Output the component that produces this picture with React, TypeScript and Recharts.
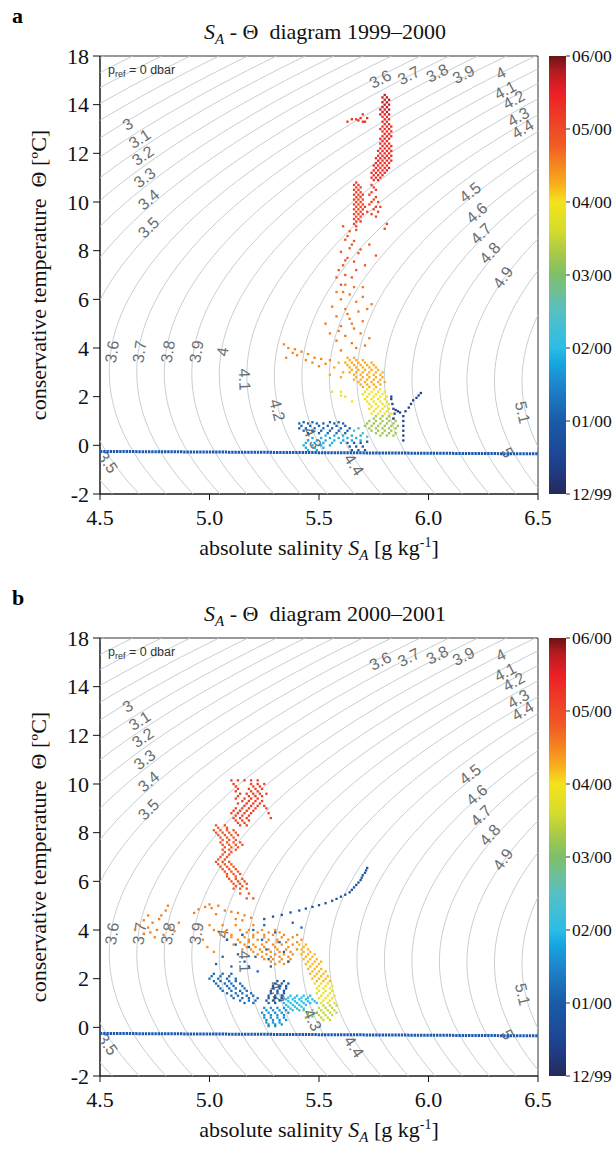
import React from "react";
import { ScatterChart, Scatter, XAxis, YAxis, ReferenceArea, BarChart, Bar } from "recharts";

type Pt = [number, number];

const SERIF = '"Liberation Serif", "Times New Roman", serif';
const SANS = '"Liberation Sans", Arial, sans-serif';

// axes
const xTicks = [4.5, 5.0, 5.5, 6.0, 6.5];
const yTicks = [-2, 0, 2, 4, 6, 8, 10, 12, 14, 16];
const yTickLabels = ["-2", "0", "2", "4", "6", "8", "10", "12", "14", "18"]; // the figure prints 18 on its top tick
const cbTicks = [0, 1, 2, 3, 4, 5, 6];
const cbTickLabels = ["12/99", "01/00", "02/00", "03/00", "04/00", "05/00", "06/00"];

// isopycnals (sigma0, kg m-3)
const sigmaLevels = [2.3, 2.4, 2.5, 2.6, 2.7, 2.8, 2.9, 3.0, 3.1, 3.2, 3.3, 3.4, 3.5, 3.6, 3.7, 3.8, 3.9, 4.0, 4.1, 4.2, 4.3, 4.4, 4.5, 4.6, 4.7, 4.8, 4.9, 5.0, 5.1, 5.2, 5.3];
// label text, SA, CT where it sits
const contourLabels: [string, number, number][] = [
  ["3", 4.626, 13.2], ["3.1", 4.681, 12.6], ["3.2", 4.695, 11.9], ["3.3", 4.704, 11.0], ["3.4", 4.722, 10.1], ["3.5", 4.722, 8.95],
  ["3.6", 5.78, 15.05], ["3.7", 5.91, 15.2], ["3.8", 6.04, 15.3], ["3.9", 6.16, 15.25], ["4", 6.33, 15.3],
  ["4.1", 6.35, 14.6], ["4.2", 6.39, 14.2], ["4.3", 6.41, 13.5], ["4.4", 6.43, 13.0],
  ["4.5", 6.19, 10.4], ["4.6", 6.22, 9.55], ["4.7", 6.24, 8.7], ["4.8", 6.28, 7.9], ["4.9", 6.34, 6.9],
  ["3.6", 4.555, 3.85], ["3.7", 4.68, 3.85], ["3.8", 4.81, 3.85], ["3.9", 4.94, 3.85], ["4", 5.06, 3.85],
  ["4.1", 5.16, 2.7], ["4.2", 5.31, 1.45], ["4.3", 5.47, 0.3], ["4.4", 5.66, -0.8],
  ["3.5", 4.535, -0.7], ["5", 6.36, -0.3], ["5.1", 6.43, 1.35],
];
const freezeLine: Pt[] = [[4.5, -0.25], [6.5, -0.35]];

// time colour map (months after 1 Dec 1999)
const cmapT = [0, 0.3, 0.6, 1.0, 1.5, 1.8, 2.0, 2.5, 2.8, 3.0, 3.3, 3.6, 4.0, 4.25, 4.5, 4.8, 5.0, 5.5, 5.8, 6.0];
const cmapC = ["#242a5a", "#203a82", "#1c4a98", "#1a5ba8", "#1d86cc", "#16a6e0", "#2bbde8", "#56c0c4", "#72bf8f", "#7dbf6a", "#a8c948", "#d4dc2c", "#f4e31c", "#f9ad1d", "#f5861f", "#f05a24", "#ee4a27", "#ec1f25", "#b01c20", "#6a1414"];

// ---- panel a data (SA, CT) ----
const aTopDarkRed: Pt[] = [
  [5.80, 14.4], [5.79, 14.3], [5.81, 14.3], [5.80, 14.2], [5.82, 14.2], [5.79, 14.1], [5.81, 14.1], [5.80, 14.0], [5.82, 14.0],
  [5.79, 13.9], [5.81, 13.9], [5.78, 13.8], [5.80, 13.8], [5.82, 13.8], [5.79, 13.7], [5.81, 13.7], [5.78, 13.6], [5.80, 13.6], [5.82, 13.6],
];
const aRedColumn: Pt[] = [
  [5.79, 13.5], [5.81, 13.5], [5.80, 13.4], [5.82, 13.4], [5.79, 13.3], [5.81, 13.3], [5.80, 13.2], [5.82, 13.2],
  [5.79, 13.1], [5.81, 13.1], [5.83, 13.1], [5.78, 13.0], [5.80, 13.0], [5.82, 13.0], [5.79, 12.9], [5.81, 12.9], [5.83, 12.9],
  [5.80, 12.8], [5.82, 12.8], [5.79, 12.7], [5.81, 12.7], [5.83, 12.7], [5.78, 12.6], [5.80, 12.6], [5.82, 12.6],
  [5.79, 12.5], [5.81, 12.5], [5.78, 12.4], [5.80, 12.4], [5.82, 12.4], [5.79, 12.3], [5.81, 12.3], [5.83, 12.3],
  [5.78, 12.2], [5.80, 12.2], [5.82, 12.2], [5.77, 12.1], [5.79, 12.1], [5.81, 12.1], [5.83, 12.1],
  [5.78, 12.0], [5.80, 12.0], [5.82, 12.0], [5.77, 11.9], [5.79, 11.9], [5.81, 11.9], [5.83, 11.9],
  [5.76, 11.8], [5.78, 11.8], [5.80, 11.8], [5.82, 11.8], [5.77, 11.7], [5.79, 11.7], [5.81, 11.7], [5.83, 11.7],
  [5.76, 11.6], [5.78, 11.6], [5.80, 11.6], [5.82, 11.6], [5.75, 11.5], [5.77, 11.5], [5.79, 11.5], [5.81, 11.5],
  [5.76, 11.4], [5.78, 11.4], [5.80, 11.4], [5.82, 11.4], [5.75, 11.3], [5.77, 11.3], [5.79, 11.3], [5.81, 11.3],
  [5.74, 11.2], [5.76, 11.2], [5.78, 11.2], [5.80, 11.2], [5.75, 11.1], [5.77, 11.1], [5.79, 11.1],
  [5.74, 11.0], [5.76, 11.0], [5.78, 11.0], [5.75, 10.9], [5.77, 10.9],
];
const aRedTuft: Pt[] = [[5.63, 13.3], [5.65, 13.4], [5.67, 13.4], [5.69, 13.45], [5.70, 13.6], [5.71, 13.3], [5.72, 13.45], [5.70, 13.3], [5.68, 13.35]];
const aSecondColumn: Pt[] = [
  [5.67, 10.8], [5.66, 10.7], [5.68, 10.7], [5.67, 10.6], [5.69, 10.6], [5.66, 10.5], [5.68, 10.5], [5.67, 10.4], [5.69, 10.4],
  [5.66, 10.3], [5.68, 10.3], [5.70, 10.3], [5.67, 10.2], [5.69, 10.2], [5.66, 10.1], [5.68, 10.1], [5.70, 10.1],
  [5.67, 10.0], [5.69, 10.0], [5.66, 9.9], [5.68, 9.9], [5.70, 9.9], [5.67, 9.8], [5.69, 9.8], [5.71, 9.8],
  [5.66, 9.7], [5.68, 9.7], [5.70, 9.7], [5.67, 9.6], [5.69, 9.6], [5.66, 9.5], [5.68, 9.5], [5.70, 9.5],
  [5.67, 9.4], [5.69, 9.4], [5.66, 9.3], [5.68, 9.3], [5.67, 9.2], [5.69, 9.2], [5.66, 9.1], [5.67, 9.0],
  [5.74, 10.7], [5.75, 10.6], [5.76, 10.5], [5.74, 10.4], [5.73, 10.3], [5.76, 10.2], [5.75, 10.1], [5.77, 10.0], [5.74, 10.0],
  [5.73, 9.9], [5.76, 9.8], [5.75, 9.7], [5.77, 9.6], [5.74, 9.5], [5.76, 9.4], [5.72, 9.6], [5.78, 9.8], [5.80, 8.9], [5.81, 9.1],
];
const aOrangeRed: Pt[] = [
  [5.61, 9.0], [5.64, 8.8], [5.67, 8.85], [5.62, 8.45], [5.65, 8.25], [5.69, 8.05], [5.60, 7.95], [5.63, 7.7],
  [5.66, 7.55], [5.71, 7.4], [5.59, 7.2], [5.62, 7.0], [5.65, 6.9], [5.60, 6.6], [5.73, 8.25], [5.76, 7.8],
  [5.63, 8.6], [5.68, 7.9], [5.61, 7.4], [5.67, 7.2], [5.64, 8.1], [5.66, 8.4], [5.62, 7.6], [5.58, 6.9],
];
const aOrange: Pt[] = [
  [5.62, 6.6], [5.66, 6.5], [5.58, 6.3], [5.64, 6.2], [5.70, 6.1], [5.60, 6.0], [5.67, 5.9], [5.56, 5.7],
  [5.62, 5.6], [5.68, 5.5], [5.72, 5.6], [5.58, 5.3], [5.64, 5.2], [5.70, 5.1], [5.60, 4.9], [5.66, 4.8],
  [5.55, 4.6], [5.62, 4.5], [5.69, 4.6], [5.58, 4.3], [5.65, 4.2], [5.73, 4.4], [5.70, 6.5], [5.74, 5.8], [5.53, 5.0],
  [5.60, 3.9], [5.67, 4.0], [5.71, 4.1], [5.63, 5.4], [5.59, 4.7], [5.65, 5.0], [5.61, 6.3],
];
const aOrangeStreak: Pt[] = [
  [5.34, 4.15], [5.36, 4.0], [5.39, 3.95], [5.42, 3.85], [5.40, 3.7], [5.45, 3.75], [5.48, 3.6], [5.44, 3.5],
  [5.51, 3.55], [5.47, 3.4], [5.53, 3.35], [5.50, 3.25], [5.38, 3.8], [5.55, 3.5], [5.35, 3.6],
];
const aOrangeDense: Pt[] = [
  [5.63, 3.6], [5.66, 3.6], [5.64, 3.5], [5.67, 3.5], [5.70, 3.5], [5.62, 3.4], [5.65, 3.4], [5.68, 3.4], [5.71, 3.4], [5.74, 3.4],
  [5.63, 3.3], [5.66, 3.3], [5.69, 3.3], [5.72, 3.3], [5.75, 3.3], [5.64, 3.2], [5.67, 3.2], [5.70, 3.2], [5.73, 3.2], [5.76, 3.2],
  [5.65, 3.1], [5.68, 3.1], [5.71, 3.1], [5.74, 3.1], [5.77, 3.1], [5.64, 3.0], [5.67, 3.0], [5.70, 3.0], [5.73, 3.0], [5.76, 3.0], [5.79, 3.0],
  [5.66, 2.9], [5.69, 2.9], [5.72, 2.9], [5.75, 2.9], [5.78, 2.9], [5.67, 2.8], [5.70, 2.8], [5.73, 2.8], [5.76, 2.8], [5.79, 2.8],
  [5.66, 2.7], [5.69, 2.7], [5.72, 2.7], [5.75, 2.7], [5.78, 2.7], [5.68, 2.6], [5.71, 2.6], [5.74, 2.6], [5.77, 2.6], [5.80, 2.6],
  [5.69, 2.5], [5.72, 2.5], [5.75, 2.5], [5.78, 2.5], [5.70, 2.4], [5.73, 2.4], [5.76, 2.4],
  [5.57, 3.2], [5.59, 3.4], [5.55, 2.9], [5.60, 2.8], [5.61, 3.0],
];
const aYellow: Pt[] = [
  [5.72, 2.3], [5.75, 2.3], [5.78, 2.3], [5.71, 2.2], [5.74, 2.2], [5.77, 2.2], [5.80, 2.2], [5.70, 2.1], [5.73, 2.1], [5.76, 2.1], [5.79, 2.1],
  [5.72, 2.0], [5.75, 2.0], [5.78, 2.0], [5.81, 2.0], [5.71, 1.9], [5.74, 1.9], [5.77, 1.9], [5.80, 1.9],
  [5.72, 1.8], [5.75, 1.8], [5.78, 1.8], [5.81, 1.8], [5.73, 1.7], [5.76, 1.7], [5.79, 1.7], [5.82, 1.7],
  [5.74, 1.6], [5.77, 1.6], [5.80, 1.6], [5.73, 1.5], [5.76, 1.5], [5.79, 1.5], [5.82, 1.5],
  [5.75, 1.4], [5.78, 1.4], [5.81, 1.4], [5.74, 1.3], [5.77, 1.3], [5.80, 1.3], [5.83, 1.3],
  [5.62, 2.0], [5.65, 1.8], [5.60, 2.2], [5.56, 2.2], [5.60, 2.05],
];
const aGreen: Pt[] = [
  [5.76, 1.2], [5.79, 1.2], [5.82, 1.2], [5.75, 1.1], [5.78, 1.1], [5.81, 1.1], [5.84, 1.1],
  [5.73, 1.0], [5.76, 1.0], [5.79, 1.0], [5.82, 1.0], [5.85, 1.0], [5.72, 0.9], [5.75, 0.9], [5.78, 0.9], [5.81, 0.9], [5.84, 0.9],
  [5.71, 0.8], [5.74, 0.8], [5.77, 0.8], [5.80, 0.8], [5.83, 0.8], [5.86, 0.8], [5.73, 0.7], [5.76, 0.7], [5.79, 0.7], [5.82, 0.7], [5.85, 0.7],
  [5.74, 0.6], [5.77, 0.6], [5.80, 0.6], [5.83, 0.6], [5.76, 0.5], [5.79, 0.5], [5.82, 0.5], [5.85, 0.5], [5.78, 0.4], [5.81, 0.4], [5.84, 0.4],
];
const aTeal: Pt[] = [[5.68, 0.7], [5.70, 0.5], [5.66, 0.6], [5.72, 0.35]];
const aNavyArms: Pt[] = [
  [5.885, 0.2], [5.885, 0.4], [5.885, 0.6], [5.885, 0.8], [5.885, 1.0], [5.885, 1.2],
  [5.895, 1.4], [5.91, 1.55], [5.92, 1.7], [5.93, 1.85], [5.945, 1.95], [5.955, 2.05], [5.965, 2.15],
  [5.83, 1.9], [5.835, 1.7], [5.84, 1.5], [5.845, 1.3], [5.85, 1.45], [5.86, 1.4], [5.87, 1.35], [5.84, 1.1], [5.83, 2.0],
];
const aBlue: Pt[] = [
  [5.43, 0.95], [5.47, 0.95], [5.55, 0.95], [5.59, 0.95], [5.41, 0.9], [5.45, 0.9], [5.49, 0.9], [5.52, 0.9], [5.57, 0.9], [5.61, 0.9],
  [5.42, 0.8], [5.46, 0.8], [5.50, 0.8], [5.54, 0.8], [5.58, 0.8], [5.62, 0.8],
  [5.41, 0.7], [5.44, 0.7], [5.48, 0.7], [5.52, 0.7], [5.56, 0.7], [5.60, 0.7], [5.64, 0.7],
  [5.43, 0.6], [5.47, 0.6], [5.51, 0.6], [5.55, 0.6], [5.59, 0.6], [5.63, 0.6], [5.45, 0.5], [5.50, 0.5], [5.54, 0.5], [5.58, 0.5], [5.62, 0.5],
];
const aCyan: Pt[] = [
  [5.53, 0.4], [5.57, 0.4], [5.61, 0.4], [5.65, 0.4], [5.69, 0.4], [5.47, 0.3], [5.51, 0.3], [5.55, 0.3], [5.59, 0.3], [5.63, 0.3], [5.67, 0.3],
  [5.45, 0.2], [5.49, 0.2], [5.53, 0.2], [5.57, 0.2], [5.61, 0.2], [5.65, 0.2], [5.69, 0.2],
  [5.44, 0.1], [5.48, 0.1], [5.52, 0.1], [5.56, 0.1], [5.60, 0.1], [5.43, 0.0], [5.47, 0.0], [5.51, 0.0], [5.55, 0.0],
  [5.44, -0.1], [5.48, -0.1], [5.52, -0.1], [5.45, -0.2], [5.49, -0.2],
];
const aBlueBottom: Pt[] = [[5.63, 0.1], [5.66, 0.1], [5.69, 0.1], [5.72, 0.15], [5.64, -0.05], [5.67, -0.05], [5.70, -0.05], [5.65, -0.2], [5.68, -0.2], [5.71, -0.2]];

// ---- panel b data (SA, CT) ----
const bRedTop: Pt[] = [
  [5.10, 10.15], [5.13, 10.15], [5.16, 10.15], [5.19, 10.15], [5.22, 10.15], [5.11, 10.0], [5.19, 10.0], [5.22, 10.0], [5.25, 10.0],
  [5.12, 9.9], [5.20, 9.9], [5.23, 9.9], [5.13, 9.8], [5.18, 9.8], [5.21, 9.8], [5.24, 9.8], [5.12, 9.7], [5.19, 9.7], [5.22, 9.7],
  [5.14, 9.6], [5.17, 9.6], [5.20, 9.6], [5.23, 9.6], [5.26, 9.6], [5.13, 9.5], [5.18, 9.5], [5.21, 9.5], [5.24, 9.5],
  [5.12, 9.4], [5.16, 9.4], [5.19, 9.4], [5.22, 9.4], [5.15, 9.3], [5.18, 9.3], [5.21, 9.3], [5.24, 9.3],
  [5.13, 9.2], [5.17, 9.2], [5.20, 9.2], [5.23, 9.2], [5.16, 9.1], [5.19, 9.1], [5.22, 9.1], [5.25, 9.1],
  [5.12, 9.0], [5.15, 9.0], [5.18, 9.0], [5.21, 9.0], [5.26, 9.0], [5.11, 8.9], [5.14, 8.9], [5.17, 8.9], [5.20, 8.9],
  [5.10, 8.8], [5.13, 8.8], [5.16, 8.8], [5.19, 8.8], [5.27, 8.8], [5.12, 8.7], [5.15, 8.7], [5.18, 8.7],
  [5.11, 8.6], [5.14, 8.6], [5.17, 8.6], [5.28, 8.6], [5.12, 8.5], [5.15, 8.5], [5.18, 8.5], [5.13, 8.4], [5.16, 8.4], [5.14, 8.3], [5.17, 8.3],
];
const bOrangeRed: Pt[] = [
  [5.03, 8.3], [5.07, 8.3], [5.04, 8.2], [5.08, 8.2], [5.02, 8.1], [5.05, 8.1], [5.08, 8.1], [5.11, 8.1], [5.03, 8.0], [5.06, 8.0], [5.09, 8.0], [5.12, 8.0],
  [5.04, 7.9], [5.07, 7.9], [5.10, 7.9], [5.13, 7.9], [5.05, 7.8], [5.08, 7.8], [5.11, 7.8], [5.06, 7.7], [5.09, 7.7], [5.12, 7.7],
  [5.05, 7.6], [5.08, 7.6], [5.11, 7.6], [5.14, 7.6], [5.06, 7.5], [5.09, 7.5], [5.12, 7.5], [5.15, 7.5], [5.07, 7.4], [5.10, 7.4], [5.13, 7.4],
  [5.06, 7.3], [5.09, 7.3], [5.12, 7.3], [5.07, 7.2], [5.10, 7.2], [5.06, 7.1], [5.09, 7.1], [5.05, 7.0], [5.08, 7.0], [5.04, 6.9], [5.07, 6.9],
  [5.03, 6.8], [5.06, 6.8], [5.09, 6.8], [5.04, 6.7], [5.07, 6.7], [5.10, 6.7], [5.05, 6.6], [5.08, 6.6], [5.11, 6.6],
  [5.06, 6.5], [5.09, 6.5], [5.12, 6.5], [5.07, 6.4], [5.10, 6.4], [5.13, 6.4], [5.08, 6.3], [5.11, 6.3], [5.14, 6.3], [5.08, 6.2], [5.12, 6.2],
  [5.09, 6.1], [5.12, 6.1], [5.15, 6.1], [5.10, 6.0], [5.13, 6.0], [5.16, 6.0], [5.11, 5.9], [5.14, 5.9], [5.17, 5.9], [5.12, 5.8], [5.15, 5.8],
  [5.11, 5.7], [5.14, 5.7], [5.17, 5.7], [5.14, 5.5], [5.18, 5.5], [5.17, 5.3], [5.20, 5.3],
];
const bLightOrange: Pt[] = [
  [4.68, 4.2], [4.70, 4.4], [4.72, 4.1], [4.74, 4.3], [4.76, 4.0], [4.73, 3.9], [4.70, 3.85], [4.78, 4.6], [4.80, 4.8],
  [4.77, 4.45], [4.82, 4.1], [4.84, 3.95], [4.79, 3.8], [4.75, 3.7], [4.81, 5.0], [4.72, 4.6], [4.86, 4.3], [4.66, 4.0],
  [4.95, 4.85], [4.98, 4.95], [5.01, 4.9], [5.04, 5.0], [5.07, 4.8], [5.10, 4.75], [5.13, 4.7], [5.16, 4.6], [5.19, 4.5],
  [5.03, 4.65], [5.12, 4.45], [5.15, 4.4], [5.00, 5.05], [4.93, 4.7],
];
const bOrange: Pt[] = [
  [5.00, 4.2], [5.06, 4.2], [5.12, 4.2], [5.20, 4.2], [5.02, 4.0], [5.08, 4.0], [5.14, 4.0], [5.18, 4.0], [5.24, 4.0], [5.30, 4.0],
  [5.07, 3.9], [5.17, 3.9], [5.22, 3.9], [5.27, 3.9], [5.32, 3.9],
  [5.05, 3.8], [5.10, 3.8], [5.15, 3.8], [5.20, 3.8], [5.25, 3.8], [5.29, 3.8], [5.34, 3.8], [5.40, 3.8],
  [5.10, 3.7], [5.16, 3.7], [5.20, 3.7], [5.25, 3.7], [5.33, 3.7], [5.38, 3.7],
  [5.08, 3.6], [5.13, 3.6], [5.18, 3.6], [5.22, 3.6], [5.27, 3.6], [5.31, 3.6], [5.36, 3.6], [5.42, 3.6],
  [5.14, 3.5], [5.18, 3.5], [5.26, 3.5], [5.31, 3.5], [5.35, 3.5], [5.40, 3.5],
  [5.11, 3.4], [5.16, 3.4], [5.20, 3.4], [5.24, 3.4], [5.29, 3.4], [5.33, 3.4], [5.38, 3.4],
  [5.17, 3.3], [5.21, 3.3], [5.25, 3.3], [5.30, 3.3], [5.36, 3.3],
  [5.15, 3.2], [5.19, 3.2], [5.23, 3.2], [5.27, 3.2], [5.31, 3.2], [5.35, 3.2], [5.40, 3.2],
  [5.20, 3.1], [5.24, 3.1], [5.28, 3.1], [5.32, 3.1], [5.37, 3.1],
  [5.22, 3.0], [5.26, 3.0], [5.30, 3.0], [5.34, 3.0], [5.38, 3.0], [5.24, 2.9], [5.28, 2.9], [5.32, 2.9], [5.36, 2.9],
  [5.25, 2.8], [5.29, 2.8], [5.33, 2.8], [5.37, 2.8], [5.28, 2.7], [5.32, 2.7], [5.36, 2.7], [5.30, 2.6], [5.34, 2.6],
  [4.97, 3.6], [4.99, 3.3], [5.02, 3.1],
];
const bOrangeYellow: Pt[] = [
  [5.41, 3.4], [5.44, 3.4], [5.43, 3.3], [5.42, 3.2], [5.45, 3.2], [5.43, 3.1], [5.46, 3.1], [5.42, 3.0], [5.45, 3.0], [5.48, 3.0],
  [5.44, 2.9], [5.47, 2.9], [5.43, 2.8], [5.46, 2.8], [5.49, 2.8], [5.45, 2.7], [5.48, 2.7], [5.51, 2.7],
  [5.44, 2.6], [5.47, 2.6], [5.50, 2.6], [5.46, 2.5], [5.49, 2.5], [5.45, 2.4], [5.48, 2.4], [5.51, 2.4],
  [5.47, 2.3], [5.50, 2.3], [5.53, 2.3], [5.46, 2.2], [5.49, 2.2], [5.52, 2.2], [5.48, 2.1], [5.51, 2.1], [5.54, 2.1],
  [5.47, 2.0], [5.50, 2.0], [5.53, 2.0], [5.49, 1.9], [5.52, 1.9], [5.55, 1.9],
];
const bYellow: Pt[] = [
  [5.48, 1.8], [5.51, 1.8], [5.54, 1.8], [5.50, 1.7], [5.53, 1.7], [5.56, 1.7], [5.49, 1.6], [5.52, 1.6], [5.55, 1.6],
  [5.50, 1.5], [5.53, 1.5], [5.56, 1.5], [5.49, 1.4], [5.52, 1.4], [5.55, 1.4], [5.51, 1.3], [5.54, 1.3], [5.57, 1.3],
  [5.50, 1.2], [5.53, 1.2], [5.56, 1.2], [5.52, 1.1], [5.55, 1.1], [5.51, 1.0], [5.54, 1.0], [5.57, 1.0],
];
const bYellowGreen: Pt[] = [
  [5.52, 0.9], [5.55, 0.9], [5.58, 0.9], [5.50, 0.8], [5.53, 0.8], [5.56, 0.8], [5.51, 0.7], [5.54, 0.7], [5.57, 0.7],
  [5.49, 0.6], [5.52, 0.6], [5.55, 0.6], [5.58, 0.6], [5.50, 0.5], [5.53, 0.5], [5.56, 0.5], [5.51, 0.4], [5.54, 0.4], [5.52, 0.3], [5.55, 0.3],
];
const bGreen: Pt[] = [[5.43, 0.7], [5.45, 0.55], [5.47, 0.7], [5.44, 0.4], [5.47, 0.45], [5.49, 0.6]];
const bCyan: Pt[] = [
  [5.37, 1.3], [5.40, 1.3], [5.43, 1.3], [5.46, 1.3], [5.36, 1.22], [5.39, 1.22], [5.42, 1.22], [5.45, 1.22],
  [5.35, 1.15], [5.38, 1.15], [5.41, 1.15], [5.44, 1.15], [5.47, 1.15], [5.36, 1.07], [5.39, 1.07], [5.42, 1.07], [5.45, 1.07], [5.48, 1.07],
  [5.34, 1.0], [5.37, 1.0], [5.40, 1.0], [5.43, 1.0], [5.46, 1.0], [5.49, 1.0], [5.35, 0.92], [5.38, 0.92], [5.41, 0.92], [5.44, 0.92],
  [5.36, 0.85], [5.39, 0.85], [5.42, 0.85], [5.37, 0.77], [5.40, 0.77], [5.43, 0.77], [5.38, 0.7], [5.41, 0.7],
];
const bCyanBlue: Pt[] = [
  [5.25, 0.8], [5.28, 0.8], [5.31, 0.8], [5.34, 0.8], [5.26, 0.7], [5.29, 0.7], [5.32, 0.7], [5.35, 0.7],
  [5.24, 0.6], [5.27, 0.6], [5.30, 0.6], [5.33, 0.6], [5.36, 0.6], [5.25, 0.5], [5.28, 0.5], [5.31, 0.5], [5.34, 0.5],
  [5.25, 0.4], [5.28, 0.4], [5.31, 0.4], [5.34, 0.4], [5.26, 0.3], [5.29, 0.3], [5.32, 0.3], [5.35, 0.3],
  [5.26, 0.2], [5.29, 0.2], [5.32, 0.2], [5.27, 0.12], [5.30, 0.12], [5.33, 0.12], [5.27, 0.05], [5.30, 0.05],
];
const bBlue: Pt[] = [
  [5.31, 1.9], [5.34, 1.9], [5.30, 1.8], [5.33, 1.8], [5.36, 1.8], [5.29, 1.7], [5.32, 1.7], [5.35, 1.7], [5.29, 1.6], [5.32, 1.6], [5.35, 1.6],
  [5.28, 1.5], [5.31, 1.5], [5.34, 1.5], [5.28, 1.4], [5.31, 1.4], [5.34, 1.4], [5.27, 1.3], [5.30, 1.3], [5.33, 1.3],
  [5.27, 1.2], [5.30, 1.2], [5.33, 1.2], [5.26, 1.1], [5.29, 1.1], [5.32, 1.1], [5.27, 1.0], [5.30, 1.0],
];
const bBlueLeft: Pt[] = [
  [5.02, 2.2], [5.06, 2.2], [5.01, 2.1], [5.05, 2.1], [5.09, 2.1], [5.00, 2.0], [5.04, 2.0], [5.08, 2.0], [5.12, 2.0],
  [5.02, 1.9], [5.05, 1.9], [5.09, 1.9], [5.12, 1.9], [5.03, 1.8], [5.07, 1.8], [5.10, 1.8], [5.14, 1.8],
  [5.04, 1.7], [5.08, 1.7], [5.11, 1.7], [5.15, 1.7], [5.05, 1.6], [5.09, 1.6], [5.12, 1.6], [5.16, 1.6],
  [5.06, 1.5], [5.10, 1.5], [5.14, 1.5], [5.17, 1.5], [5.08, 1.4], [5.12, 1.4], [5.15, 1.4], [5.19, 1.4],
  [5.10, 1.3], [5.13, 1.3], [5.17, 1.3], [5.20, 1.3], [5.11, 1.2], [5.15, 1.2], [5.18, 1.2], [5.22, 1.2],
  [5.14, 1.1], [5.18, 1.1], [5.21, 1.1], [5.16, 1.0], [5.20, 1.0],
];
const bBlueScatter: Pt[] = [
  [5.03, 2.6], [5.06, 2.9], [5.10, 2.5], [5.13, 3.0], [5.16, 2.7], [5.18, 3.3], [5.21, 2.9], [5.24, 3.6], [5.26, 3.2], [5.28, 2.5],
  [5.30, 3.9], [5.32, 3.5], [5.15, 3.8], [5.20, 4.0], [5.25, 4.2], [5.10, 2.2], [5.22, 2.3], [5.12, 3.4], [5.34, 3.1], [5.36, 2.7],
  [5.08, 3.6], [5.18, 2.5], [5.27, 2.8], [5.38, 4.3], [5.42, 4.1],
];
const bNavyStreak: Pt[] = [
  [5.72, 6.55], [5.715, 6.45], [5.71, 6.35], [5.70, 6.25], [5.695, 6.15], [5.69, 6.05], [5.68, 5.95], [5.67, 5.85], [5.66, 5.75],
  [5.65, 5.65], [5.64, 5.55], [5.62, 5.45], [5.60, 5.37], [5.58, 5.28], [5.56, 5.2], [5.53, 5.1], [5.50, 5.02], [5.47, 4.95],
  [5.44, 4.88], [5.41, 4.8], [5.37, 4.72], [5.33, 4.62], [5.29, 4.55], [5.25, 4.45],
];

// [time, points]
const panelAGroups: [number, Pt[]][] = [
  [5.7, aTopDarkRed], [5.35, aRedColumn], [5.3, aRedTuft], [5.1, aSecondColumn], [4.85, aOrangeRed], [4.6, aOrange],
  [4.5, aOrangeStreak], [4.25, aOrangeDense], [3.95, aYellow], [3.25, aGreen], [2.5, aTeal], [1.1, aBlue], [1.85, aCyan],
  [0.8, aBlueBottom], [0.45, aNavyArms],
];
const panelBGroups: [number, Pt[]][] = [
  [5.1, bRedTop], [4.85, bOrangeRed], [4.55, bLightOrange], [4.45, bOrange], [4.2, bOrangeYellow], [3.9, bYellow],
  [3.5, bYellowGreen], [3.0, bGreen], [2.0, bCyan], [1.6, bCyanBlue], [0.9, bBlue], [1.2, bBlueLeft], [1.1, bBlueScatter],
  [0.85, bNavyStreak],
];

// layout
const PLOT_TOP = 56;
const PLOT_W = 438;
const PLOT_H = 438;

// UNESCO EOS-80 surface density, SA converted to practical salinity
function sigma0(SA: number, T: number) {
  const S = SA / 1.0047;
  const rw = 999.842594 + 6.793952e-2 * T - 9.09529e-3 * T * T + 1.001685e-4 * T ** 3 - 1.120083e-6 * T ** 4 + 6.536332e-9 * T ** 5;
  const A = 0.824493 - 4.0899e-3 * T + 7.6438e-5 * T * T - 8.2467e-7 * T ** 3 + 5.3875e-9 * T ** 4;
  const B = -5.72466e-3 + 1.0227e-4 * T - 1.6546e-6 * T * T;
  return rw + A * S + B * S ** 1.5 + 4.8314e-4 * S * S - 1000;
}

function saOnIsopycnal(level: number, T: number) {
  let lo = 2, hi = 9;
  for (let i = 0; i < 40; i++) {
    const mid = (lo + hi) / 2;
    if (sigma0(mid, T) < level) lo = mid; else hi = mid;
  }
  return (lo + hi) / 2;
}

const tGrid = Array.from({ length: 97 }, (_, i) => -2.6 + i * 0.2);
const contours = sigmaLevels.map((lev) => ({ lev, pts: tGrid.map((T) => ({ x: saOnIsopycnal(lev, T), y: T })) }));

function labelAngle(lev: number, T: number) {
  const dSdT = (saOnIsopycnal(lev, T + 0.1) - saOnIsopycnal(lev, T - 0.1)) / 0.2;
  let a = (Math.atan2(-PLOT_H / 18, (PLOT_W / 2) * dSdT) * 180) / Math.PI;
  if (a < -90) a += 180;
  return a;
}
const labelPts = contourLabels.map(([text, x, y]) => ({ x, y, text, angle: labelAngle(parseFloat(text), y) }));

function hexRgb(h: string) {
  return [1, 3, 5].map((i) => parseInt(h.slice(i, i + 2), 16));
}
function timeColor(t: number) {
  let i = 0;
  while (i < cmapT.length - 2 && t > cmapT[i + 1]) i++;
  const f = Math.min(1, Math.max(0, (t - cmapT[i]) / (cmapT[i + 1] - cmapT[i])));
  const a = hexRgb(cmapC[i]), b = hexRgb(cmapC[i + 1]);
  const c = a.map((v, k) => Math.round(v + (b[k] - v) * f));
  return `rgb(${c[0]},${c[1]},${c[2]})`;
}

const noShape = () => <g />;
const dotShape = (p: any) => <rect x={p.cx - 1.15} y={p.cy - 1.15} width={2.3} height={2.3} fill={p.payload.c} />;
const labelShape = (p: any) => (
  <text
    x={p.cx}
    y={p.cy}
    transform={`rotate(${p.payload.angle} ${p.cx} ${p.cy})`}
    textAnchor="middle"
    dominantBaseline="central"
    fontFamily={SANS}
    fontSize={16}
    fill="#6a6e71"
  >
    {p.payload.text}
  </text>
);

const XLabel = (p: any) => {
  const { x, y, width } = p.viewBox;
  return (
    <text x={x + width / 2} y={y + 61} textAnchor="middle" fontFamily={SERIF} fontSize={22} fill="#111">
      {"absolute salinity "}
      <tspan fontStyle="italic">S</tspan>
      <tspan fontStyle="italic" fontSize={15} dy={5}>A</tspan>
      <tspan dy={-5}>{" [g kg"}</tspan>
      <tspan fontSize={14} dy={-8}>-1</tspan>
      <tspan dy={8}>]</tspan>
    </text>
  );
};

const YLabel = (p: any) => {
  const { y, height } = p.viewBox;
  const cx = 46;
  const cy = y + height / 2;
  return (
    <text x={cx} y={cy} transform={`rotate(-90 ${cx} ${cy})`} textAnchor="middle" fontFamily={SERIF} fontSize={22} fill="#111">
      {"conservative temperature \u00a0\u0398 [\u00baC]"}
    </text>
  );
};

const tickStyle = { fontFamily: SERIF, fontSize: 22, fill: "#111" };

function Colorbar({ height, id }: { height: number; id: string }) {
  const bottom = height - PLOT_TOP - PLOT_H;
  return (
    <BarChart width={73} height={height} data={[{ k: "cb", v: 6 }]} margin={{ top: PLOT_TOP, right: 0, bottom, left: 9 }} barCategoryGap={0}>
      <defs>
        <linearGradient id={id} x1="0" y1="0" x2="0" y2="1">
          {cmapT.map((t, i) => (
            <stop key={i} offset={1 - t / 6} stopColor={cmapC[i]} />
          )).reverse()}
        </linearGradient>
      </defs>
      <XAxis dataKey="k" hide />
      <YAxis
        orientation="right"
        type="number"
        domain={[0, 6]}
        ticks={cbTicks}
        interval={0}
        width={47}
        axisLine={false}
        tickLine={{ stroke: "#333" }}
        tickSize={4}
        tickMargin={2}
        tick={{ fontFamily: SERIF, fontSize: 17.5, fill: "#111" }}
        tickFormatter={(v: number) => cbTickLabels[cbTicks.indexOf(v)]}
      />
      <Bar dataKey="v" fill={`url(#${id})`} isAnimationActive={false} />
    </BarChart>
  );
}

function Panel({ top, height, letter, years, groups }: { top: number; height: number; letter: string; years: string; groups: [number, Pt[]][] }) {
  const pts = groups.flatMap(([t, arr]) => arr.map(([x, y]) => ({ x, y, c: timeColor(t) })));
  const freeze = freezeLine.map(([x, y]) => ({ x, y }));
  const xAxisH = height - PLOT_TOP - PLOT_H;
  return (
    <div style={{ position: "absolute", left: 0, top, width: 613, height }}>
      <ScatterChart width={613} height={height} margin={{ top: PLOT_TOP, right: 75, bottom: 0, left: 0 }}>
        <XAxis
          type="number"
          dataKey="x"
          domain={[4.5, 6.5]}
          ticks={xTicks}
          interval={0}
          allowDataOverflow
          height={xAxisH}
          tickFormatter={(v: number) => v.toFixed(1)}
          tick={tickStyle}
          tickSize={6}
          tickMargin={9}
          axisLine={{ stroke: "#111" }}
          tickLine={{ stroke: "#111" }}
          label={{ content: XLabel }}
        />
        <YAxis
          type="number"
          dataKey="y"
          domain={[-2, 16]}
          ticks={yTicks}
          interval={0}
          allowDataOverflow
          width={100}
          tickFormatter={(v: number) => yTickLabels[yTicks.indexOf(v)]}
          tick={tickStyle}
          tickSize={7}
          tickMargin={4}
          axisLine={{ stroke: "#111" }}
          tickLine={{ stroke: "#111" }}
          label={{ content: YLabel }}
        />
        {contours.map((c) => (
          <Scatter key={c.lev} data={c.pts} line={{ stroke: "#c0c8cc", strokeWidth: 0.9 }} shape={noShape} isAnimationActive={false} />
        ))}
        <Scatter data={labelPts} shape={labelShape} isAnimationActive={false} />
        <Scatter data={pts} shape={dotShape} isAnimationActive={false} />
        <Scatter data={freeze} line={{ stroke: "#1d5bb1", strokeWidth: 3, strokeDasharray: "2.4 0.8" }} shape={noShape} isAnimationActive={false} />
        <ReferenceArea x1={4.5} x2={6.5} y1={-2} y2={16} fill="none" stroke="#333" strokeWidth={1} ifOverflow="visible" />
      </ScatterChart>
      <div style={{ position: "absolute", left: 540, top: 0 }}>
        <Colorbar height={height} id={`cb-${letter}`} />
      </div>
      <div style={{ position: "absolute", left: 12, top: 5, fontFamily: SERIF, fontWeight: "bold", fontSize: 22, lineHeight: "22px" }}>{letter}</div>
      <div style={{ position: "absolute", left: 0, width: 650, top: 21, textAlign: "center", fontFamily: SERIF, fontSize: 22, lineHeight: "22px", whiteSpace: "pre", color: "#111" }}>
        <i>S</i>
        <i style={{ fontSize: 15, position: "relative", top: 5 }}>A</i>
        {" - \u0398  diagram " + years}
      </div>
      <div style={{ position: "absolute", left: 108, top: 63, fontFamily: SANS, fontSize: 12.5, lineHeight: "14px", color: "#333", whiteSpace: "pre" }}>
        p<span style={{ fontSize: 9, position: "relative", top: 3 }}>ref</span>
        {" = 0 dbar"}
      </div>
    </div>
  );
}

export default function App() {
  return (
    <div style={{ position: "absolute", left: 0, top: 0, width: 613, height: 1149, background: "#fff" }}>
      <Panel top={0} height={582} letter="a" years="1999–2000" groups={panelAGroups} />
      <Panel top={582} height={567} letter="b" years="2000–2001" groups={panelBGroups} />
    </div>
  );
}
